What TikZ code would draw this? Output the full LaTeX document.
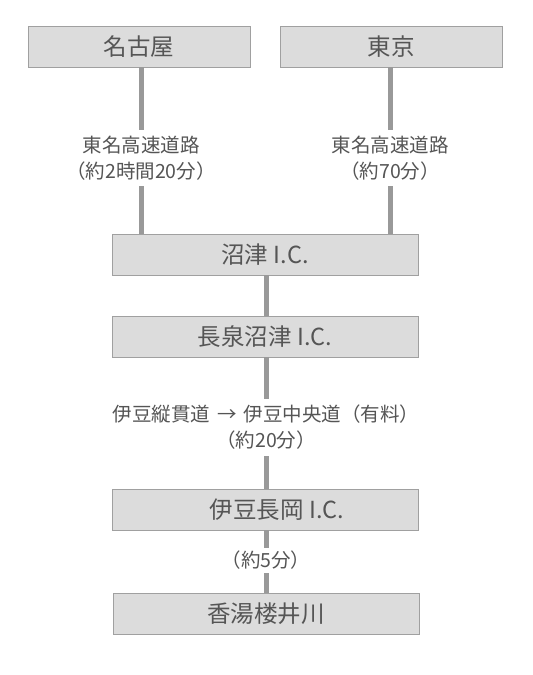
\documentclass[tikz,border=0pt]{standalone}
\usepackage{fontspec}
\setmainfont{Noto Sans CJK JP}
\usetikzlibrary{positioning}
\definecolor{boxfill}{HTML}{DCDCDC}
\definecolor{boxline}{HTML}{A0A0A0}
\definecolor{roadline}{HTML}{999999}
\definecolor{txt}{HTML}{555555}
\tikzset{
  stop/.style={draw=boxline, fill=boxfill, minimum width=222pt, minimum height=41pt,
    inner sep=0pt, text=txt, font=\fontsize{23.5pt}{26pt}\selectfont},
  wide/.style={minimum width=306pt},
  road/.style={draw=roadline, line width=5pt},
  time/.style={fill=white, text=txt, align=center, inner sep=6pt,
    font=\fontsize{19.5pt}{26pt}\selectfont}
}
\begin{document}
\begin{tikzpicture}[x=1pt,y=-1pt]
        \useasboundingbox (0,0) rectangle (533,675);
        \node[stop] (Nagoya) at (139,46.5){名古屋};
        \node[stop] (Tokyo) at (391,46.5){東京};
        \node[stop,wide] (Numazu) at (265,254.5){沼津 I.C.};
        \node[stop,wide] (Nagaizumi) at (265,336.5){長泉沼津 I.C.};
        \node[stop,wide] (Izunagaoka) at (265,509.5){\hspace*{24pt}伊豆長岡 I.C.};
        \node[stop,wide] (Kotoyu) at (266,613.5){香湯楼井川};

        \draw[road] ([xshift=2pt]Nagoya.south) -- ([xshift=2pt]Nagoya.south |- Numazu.north)
          node[time,pos=0.545]{東名高速道路\\（約2時間20分）};
        \draw[road] ([xshift=-1pt]Tokyo.south) -- ([xshift=-1pt]Tokyo.south |- Numazu.north)
          node[time,pos=0.545]{東名高速道路\\（約70分）};
        \draw[road] ([xshift=1pt]Numazu.south) -- ([xshift=1pt]Nagaizumi.north);
        \draw[road] ([xshift=1pt]Nagaizumi.south) -- ([xshift=1pt]Izunagaoka.north)
          node[time,pos=0.534]{伊豆縦貫道\hspace{0.35em}→\hspace{0.35em}伊豆中央道（有料）\\（約20分）};
        \draw[road] ([xshift=1pt]Izunagaoka.south) -- (Kotoyu.north)
          node[time,pos=0.48,inner sep=3pt]{（約5分）};
      \end{tikzpicture}
\end{document}
